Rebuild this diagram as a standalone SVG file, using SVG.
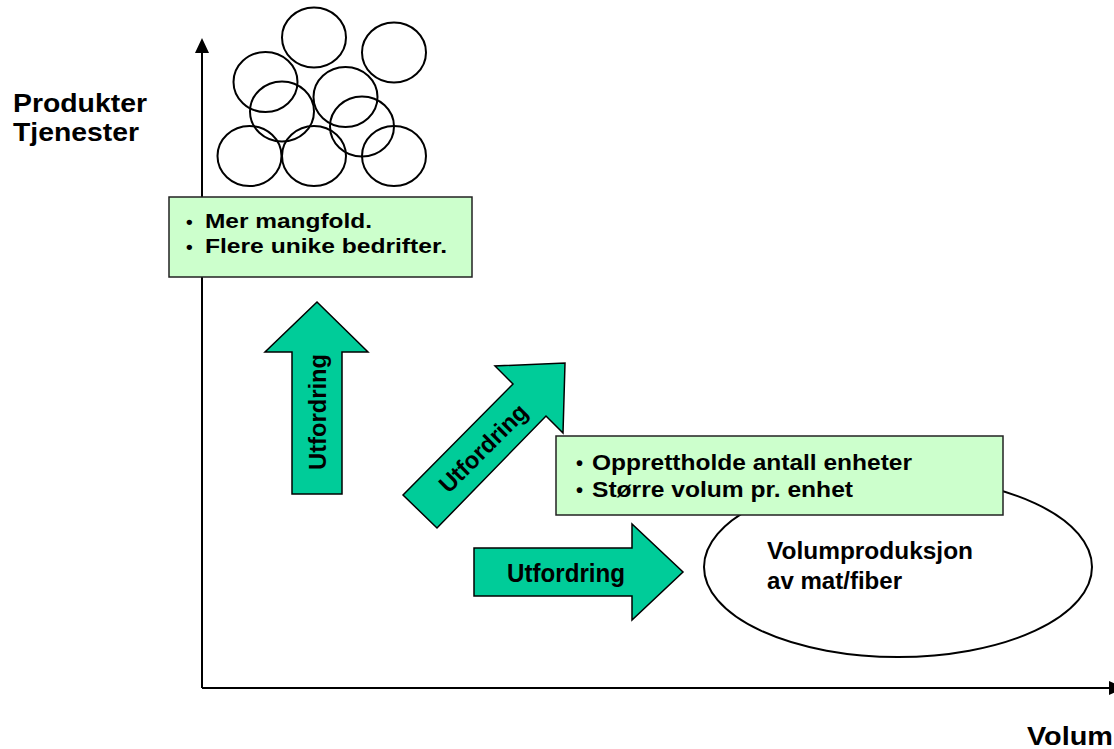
<svg xmlns="http://www.w3.org/2000/svg" width="1114" height="749" viewBox="0 0 1114 749">
<style>
.t{font-family:"Liberation Sans",Arial,sans-serif;font-weight:bold;fill:#000}
.box{fill:#CCFFCC;stroke:#222;stroke-width:1.5}
.circ{fill:none;stroke:#000;stroke-width:2}
.blk{fill:#00CC99;stroke:#000;stroke-width:1.5;stroke-linejoin:miter}
.axis{stroke:#000;stroke-width:2;fill:none}
</style>
<defs>
<marker id="ah" markerUnits="userSpaceOnUse" markerWidth="15" markerHeight="14" viewBox="0 0 15 14" refX="0" refY="7" orient="auto">
<path d="M0,0 L15,7 L0,14 z" fill="#000"/>
</marker>
</defs>
<rect width="1114" height="749" fill="#fff"/>
<g id="axes">
<line class="axis" x1="202" y1="688" x2="202" y2="53" marker-end="url(#ah)"/>
<line class="axis" x1="202" y1="688" x2="1109" y2="688" marker-end="url(#ah)"/>
<text class="t" x="13" y="112" font-size="26" textLength="134" lengthAdjust="spacingAndGlyphs">Produkter</text>
<text class="t" x="13" y="141" font-size="26" textLength="126" lengthAdjust="spacingAndGlyphs">Tjenester</text>
<text class="t" x="1027" y="745" font-size="26" textLength="86" lengthAdjust="spacingAndGlyphs">Volum</text>
</g>
<g id="circles">
<ellipse class="circ" cx="314" cy="37.5" rx="32" ry="30"/>
<ellipse class="circ" cx="394" cy="52.5" rx="32" ry="30"/>
<ellipse class="circ" cx="265.5" cy="82" rx="32" ry="30"/>
<ellipse class="circ" cx="345.5" cy="97" rx="32" ry="30"/>
<ellipse class="circ" cx="282" cy="111.5" rx="32" ry="30"/>
<ellipse class="circ" cx="362" cy="126.5" rx="32" ry="30"/>
<ellipse class="circ" cx="249.5" cy="156" rx="32" ry="30"/>
<ellipse class="circ" cx="314" cy="156" rx="32" ry="30"/>
<ellipse class="circ" cx="394" cy="156" rx="32" ry="30"/>
</g>
<g id="volum-node">
<ellipse cx="898" cy="567" rx="194" ry="90" fill="#fff" stroke="#000" stroke-width="2"/>
<text class="t" x="767" y="559" font-size="23" textLength="206" lengthAdjust="spacingAndGlyphs">Volumproduksjon</text>
<text class="t" x="767" y="589" font-size="23" textLength="135" lengthAdjust="spacingAndGlyphs">av mat/fiber</text>
</g>
<g id="box-volum">
<rect class="box" x="556" y="436" width="447" height="79"/>
<text class="t" x="576" y="470" font-size="20">•</text>
<text class="t" x="592" y="470" font-size="22" textLength="320" lengthAdjust="spacingAndGlyphs">Opprettholde antall enheter</text>
<text class="t" x="576" y="497" font-size="20">•</text>
<text class="t" x="592" y="497" font-size="22" textLength="261" lengthAdjust="spacingAndGlyphs">Større volum pr. enhet</text>
</g>
<g id="box-mangfold">
<rect class="box" x="169" y="197" width="303" height="80"/>
<text class="t" x="186" y="228" font-size="19">•</text>
<text class="t" x="205" y="228" font-size="21" textLength="167" lengthAdjust="spacingAndGlyphs">Mer mangfold.</text>
<text class="t" x="186" y="253" font-size="19">•</text>
<text class="t" x="205" y="253" font-size="21" textLength="242" lengthAdjust="spacingAndGlyphs">Flere unike bedrifter.</text>
</g>
<g id="connectors">
<g id="arrow-up">
<polygon class="blk" points="292,494 292,352 265,352 317,302 368,352 342,352 342,494"/>
<text class="t" transform="translate(317,412) rotate(-90)" x="0" y="8.5" font-size="24" text-anchor="middle" textLength="116" lengthAdjust="spacingAndGlyphs">Utfordring</text>
</g>
<g id="arrow-diag">
<polygon class="blk" points="403,495 513,384 495,366 565,363 563,433 546,416 437,528"/>
<text class="t" transform="translate(483,448) rotate(-45)" x="0" y="8.5" font-size="24" text-anchor="middle" textLength="114" lengthAdjust="spacingAndGlyphs">Utfordring</text>
</g>
<g id="arrow-right">
<polygon class="blk" points="474,548 632,548 632,524 683,572 632,620 632,596 474,596"/>
<text class="t" x="507" y="582" font-size="25" textLength="118" lengthAdjust="spacingAndGlyphs">Utfordring</text>
</g>
</g>
</svg>
